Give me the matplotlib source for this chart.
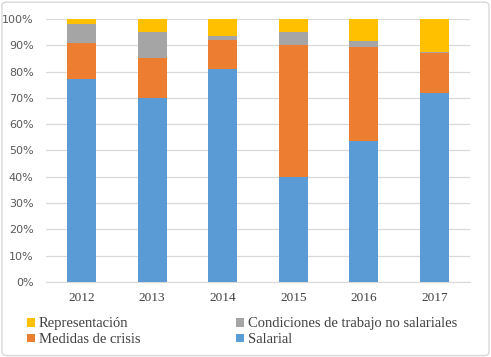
import numpy as np
import matplotlib.pyplot as plt
from matplotlib.patches import FancyBboxPatch

# datos (porcentaje)
anios = ['2012', '2013', '2014', '2015', '2016', '2017']
salarial = [77, 70, 81, 40, 53.6, 72]
medidas_crisis = [14, 15, 11, 50, 35.8, 15]
condiciones = [7, 10, 1.6, 5, 2.2, 0.4]
representacion = [2, 5, 6.4, 5, 8.4, 12.6]

c_azul = '#5B9BD5'
c_naranja = '#ED7D31'
c_gris = '#A5A5A5'
c_amarillo = '#FFC000'

fig = plt.figure(figsize=(4.91, 3.57), dpi=100)
ax = fig.add_axes([0.094, 0.21, 0.863, 0.737])

x = np.arange(len(anios))
s = np.array(salarial) / 100
m = np.array(medidas_crisis) / 100
c = np.array(condiciones) / 100
r = np.array(representacion) / 100

w = 0.41
b1 = ax.bar(x, s, w, color=c_azul, label='Salarial', zorder=3)
b2 = ax.bar(x, m, w, bottom=s, color=c_naranja, label='Medidas de crisis', zorder=3)
b3 = ax.bar(x, c, w, bottom=s + m, color=c_gris, label='Condiciones de trabajo no salariales', zorder=3)
b4 = ax.bar(x, r, w, bottom=s + m + c, color=c_amarillo, label='Representación', zorder=3)

ax.set_xlim(-0.5, len(anios) - 0.5)
ax.set_ylim(0, 1)
ax.set_yticks(np.arange(0, 1.01, 0.1))
ax.set_yticklabels([f'{int(round(v * 100))}%' for v in np.arange(0, 1.01, 0.1)],
                   fontsize=8, color='#595959')
ax.set_xticks(x)
ax.set_xticklabels(anios, fontsize=9.5, color='#404040', family='Liberation Serif')
ax.tick_params(axis='both', length=0)
ax.tick_params(axis='x', pad=7)
ax.tick_params(axis='y', pad=9)
ax.grid(axis='y', color='#D9D9D9', linewidth=0.9, zorder=0)
for lado in ['top', 'right', 'left']:
    ax.spines[lado].set_visible(False)
ax.spines['bottom'].set_color('#D9D9D9')

fig.legend([b4, b2, b3, b1],
           ['Representación', 'Medidas de crisis',
            'Condiciones de trabajo no salariales', 'Salarial'],
           ncol=2, loc='upper left', bbox_to_anchor=(0.028, 0.148),
           frameon=False, handlelength=0.55, handleheight=0.55, handletextpad=0.25,
           columnspacing=6.6, labelspacing=0.2,
           prop={'family': 'Liberation Serif', 'size': 10.5}, labelcolor='#404040')

borde = FancyBboxPatch((0.004, 0.004), 0.992, 0.99, boxstyle='round,pad=0,rounding_size=0.01',
                       transform=fig.transFigure, fill=False, edgecolor='#D9D9D9', linewidth=1)
fig.patches.append(borde)

plt.savefig('out.png', dpi=100)
